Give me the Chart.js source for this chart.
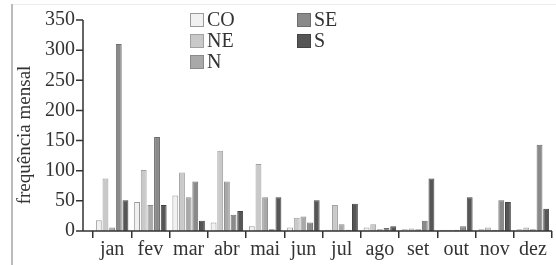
<!DOCTYPE html>
<html>
<head>
<meta charset="utf-8">
<script src="https://cdn.jsdelivr.net/npm/chart.js@4.4.0/dist/chart.umd.min.js"></script>
<style>
  html, body { margin: 0; padding: 0; background: #fff; }
  #wrap { width: 556px; height: 265px; position: relative; }
</style>
</head>
<body>
<div id="wrap"><canvas id="chart"></canvas></div>
<script>
const months = ['jan', 'fev', 'mar', 'abr', 'mai', 'jun', 'jul', 'ago', 'set', 'out', 'nov', 'dez'];
const regions = ['CO', 'NE', 'N', 'SE', 'S'];
const yTicks = [0, 50, 100, 150, 200, 250, 300, 350];

const coValues = [18, 48, 59, 14, 8, 6, 2, 6, 3, 2, 3, 3];
const neValues = [87, 101, 97, 133, 111, 22, 43, 11, 4, 2, 6, 6];
const nValues = [6, 43, 56, 82, 56, 24, 11, 3, 3, 2, 2, 3];
const seValues = [310, 156, 82, 27, 3, 14, 2, 5, 17, 8, 51, 143];
const sValues = [51, 43, 17, 33, 56, 51, 45, 8, 87, 56, 48, 37];

const fills = ['#f1f1f1', '#c9c9c9', '#a9a9a9', '#8a8a8a', '#565656'];
const borders = ['#9a9a9a', '#a0a0a0', '#8a8a8a', '#6e6e6e', '#444444'];

const serif = '"Liberation Serif", "DejaVu Serif", serif';
const textColor = '#333';

// axis lines, y title, legend and frame drawn by hand
const extrasPlugin = {
  id: 'extras',
  beforeDraw(chart) {
    const ctx = chart.ctx;
    ctx.save();
    ctx.fillStyle = '#ececec';
    ctx.fillRect(12, 4, 544, 1);
    ctx.fillStyle = '#bbbbbb';
    ctx.fillRect(11, 4, 2, 261);
    ctx.restore();
  },
  afterDraw(chart) {
    const { ctx, chartArea } = chart;
    const y = chart.scales.y;
    const axisX = chartArea.left - 10;
    const y0 = y.getPixelForValue(0);

    ctx.save();
    ctx.strokeStyle = '#333';
    ctx.lineWidth = 1.5;
    ctx.beginPath();
    ctx.moveTo(axisX, y.getPixelForValue(350));
    ctx.lineTo(axisX, y0);
    ctx.lineTo(chartArea.right, y0);
    yTicks.forEach(v => {
      const py = y.getPixelForValue(v);
      ctx.moveTo(axisX - 7, py);
      ctx.lineTo(axisX, py);
    });
    ctx.stroke();

    // y title
    ctx.fillStyle = textColor;
    ctx.font = '19px ' + serif;
    ctx.textAlign = 'center';
    ctx.textBaseline = 'middle';
    ctx.translate(25, 135);
    ctx.rotate(-Math.PI / 2);
    ctx.fillText('frequência mensal', 0, 0);
    ctx.setTransform(1, 0, 0, 1, 0, 0);

    // legend in two columns
    const positions = [[190, 13], [190, 34], [190, 55], [297, 13], [297, 34]];
    ctx.font = '20px ' + serif;
    ctx.textAlign = 'left';
    chart.data.datasets.forEach((ds, i) => {
      const [lx, ly] = positions[i];
      ctx.fillStyle = ds.backgroundColor;
      ctx.fillRect(lx, ly, 14, 14);
      ctx.strokeStyle = ds.borderColor;
      ctx.lineWidth = 1;
      ctx.strokeRect(lx + 0.5, ly + 0.5, 13, 13);
      ctx.fillStyle = textColor;
      ctx.fillText(ds.label, lx + 17, ly + 8);
    });
    ctx.restore();
  }
};

const seriesValues = [coValues, neValues, nValues, seValues, sValues];

new Chart(document.getElementById('chart'), {
  type: 'bar',
  data: {
    labels: months,
    datasets: regions.map((r, i) => ({
      label: r,
      data: seriesValues[i],
      backgroundColor: fills[i],
      borderColor: borders[i],
      borderWidth: 1,
      categoryPercentage: 0.87,
      barPercentage: 0.88
    }))
  },
  options: {
    responsive: true,
    maintainAspectRatio: false,
    animation: false,
    layout: { padding: { top: 20, right: 4, left: 0, bottom: 0 } },
    plugins: {
      legend: { display: false },
      tooltip: { enabled: false }
    },
    scales: {
      x: {
        offset: true,
        border: { display: false },
        grid: {
          display: true,
          drawOnChartArea: false,
          drawTicks: true,
          tickLength: 7,
          color: '#333',
          lineWidth: 1.5,
          offset: true
        },
        ticks: {
          color: textColor,
          font: { family: serif, size: 20 },
          padding: 0,
          maxRotation: 0
        },
        afterFit: scale => { scale.height = 34; }
      },
      y: {
        min: 0,
        max: 350,
        border: { display: false },
        grid: { display: false, drawTicks: false },
        ticks: {
          stepSize: 50,
          color: textColor,
          font: { family: serif, size: 20 },
          padding: 18
        },
        afterFit: scale => {
          scale.width = 93;
          scale.paddingTop = 0;
          scale.paddingBottom = 0;
        }
      }
    }
  },
  plugins: [extrasPlugin]
});
</script>
</body>
</html>
